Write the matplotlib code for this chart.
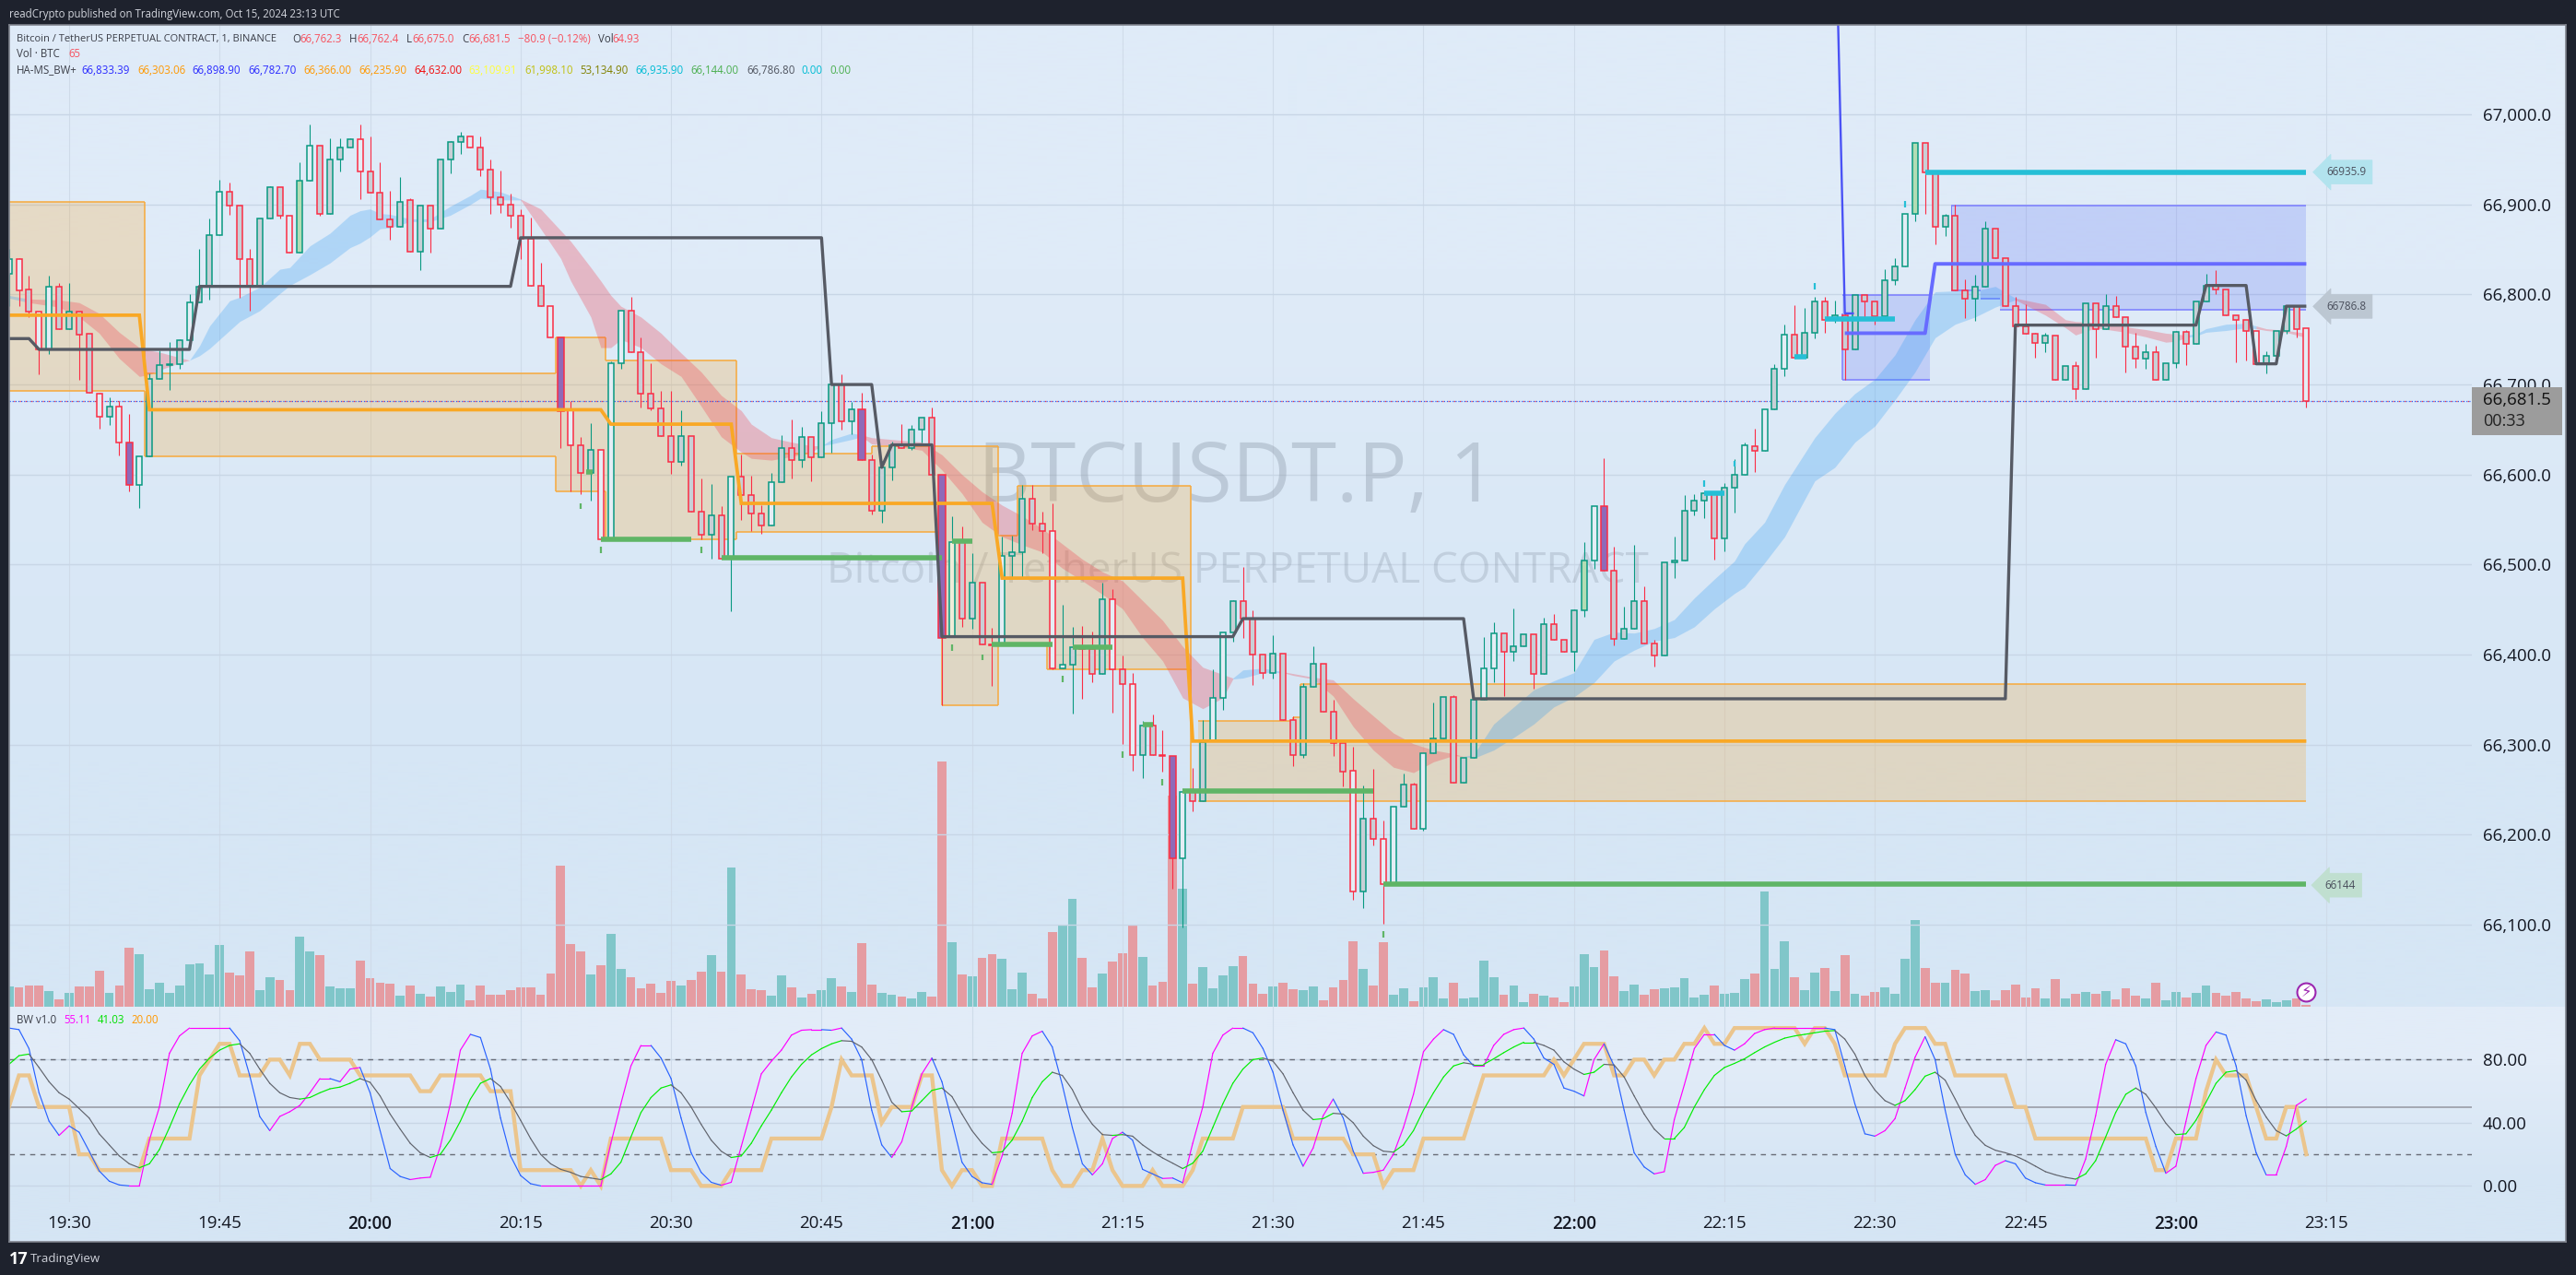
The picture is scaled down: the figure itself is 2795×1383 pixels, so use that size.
import numpy as np
import matplotlib
matplotlib.use("Agg")
import matplotlib.pyplot as plt
from matplotlib.patches import Rectangle
from matplotlib.ticker import FuncFormatter

plt.rcParams['font.family'] = ['Open Sans', 'DejaVu Sans']

W, H = 2795, 1383

# ---------------- data ----------------
opens = [66823,66839,66806,66781,66739,66809,66762,66781,66756,66690,
66664,66676,66636,66588,66620,66706,66722,66723,66749,66791,
66809,66866,66914,66899,66839,66809,66884,66919,66887,66847,
66926,66965,66890,66950,66963,66972,66937,66913,66883,66875,
66905,66848,66899,66873,66950,66969,66976,66963,66939,66908,
66900,66887,66862,66810,66787,66752,66671,66633,66602,66627,
66528,66724,66782,66736,66690,66673,66643,66614,66643,66559,
66533,66555,66507,66598,66577,66557,66543,66592,66629,66616,
66642,66619,66657,66700,66659,66672,66616,66560,66608,66633,
66629,66650,66663,66600,66420,66525,66440,66480,66411,66410,
66510,66514,66573,66545,66537,66385,66389,66408,66406,66379,
66462,66384,66367,66288,66321,66288,66287,66174,66248,66237,
66304,66352,66425,66460,66440,66400,66380,66401,66327,66288,
66364,66390,66337,66302,66271,66137,66218,66195,66144,66231,
66256,66207,66291,66307,66353,66258,66285,66350,66385,66424,
66403,66409,66423,66379,66434,66416,66403,66449,66505,66565,
66493,66418,66429,66460,66412,66399,66502,66505,66560,66571,
66579,66529,66585,66600,66632,66626,66672,66717,66755,66730,
66757,66792,66772,66777,66739,66799,66792,66776,66816,66831,
66889,66968,66936,66875,66887,66805,66795,66809,66873,66840,
66787,66765,66756,66746,66754,66705,66721,66695,66790,66762,
66787,66775,66742,66729,66736,66705,66724,66758,66745,66792,
66810,66806,66777,66772,66759,66723,66732,66759,66787,66762.3]
closes = [66839,66805,66781,66739,66809,66762,66781,66755,66691,66664,
66676,66636,66588,66620,66706,66722,66723,66749,66791,66809,
66866,66914,66899,66839,66809,66884,66919,66887,66847,66926,
66965,66890,66950,66963,66972,66937,66913,66883,66875,66903,
66848,66899,66873,66950,66969,66976,66963,66939,66908,66900,
66887,66862,66810,66787,66752,66670,66633,66602,66627,66528,
66724,66782,66736,66690,66673,66643,66614,66643,66559,66533,
66555,66507,66598,66577,66557,66543,66592,66629,66616,66642,
66619,66657,66700,66659,66672,66616,66560,66608,66633,66629,
66650,66663,66600,66419,66525,66440,66480,66411,66410,66510,
66514,66573,66545,66537,66385,66389,66408,66406,66379,66462,
66384,66367,66288,66321,66288,66287,66174,66248,66237,66303,
66352,66425,66460,66440,66400,66380,66401,66327,66288,66364,
66390,66337,66302,66270,66137,66218,66195,66145,66231,66256,
66207,66291,66307,66353,66258,66285,66350,66385,66424,66403,
66409,66423,66379,66434,66416,66403,66449,66505,66565,66493,
66418,66429,66460,66412,66399,66502,66505,66560,66571,66579,
66529,66585,66600,66633,66626,66672,66717,66755,66730,66757,
66792,66772,66777,66739,66799,66792,66776,66816,66831,66889,
66968,66936,66875,66887,66805,66795,66809,66873,66840,66787,
66765,66756,66746,66754,66705,66721,66695,66790,66762,66787,
66775,66742,66729,66736,66705,66724,66758,66745,66792,66810,
66806,66777,66772,66759,66723,66732,66759,66787,66762,66681.5]
highs = [66851,66840,66821,66781,66821,66813,66813,66781,66756,66691,
66686,66682,66667,66620,66712,66738,66747,66750,66800,66851,
66884,66927,66924,66899,66851,66884,66920,66919,66887,66947,
66989,66965,66973,66973,66973,66989,66976,66947,66915,66930,
66907,66899,66899,66950,66970,66981,66976,66976,66950,66938,
66912,66895,66885,66835,66787,66752,66682,66642,66657,66627,
66726,66782,66797,66752,66724,66693,66693,66671,66643,66596,
66590,66565,66598,66622,66599,66566,66602,66644,66661,66653,
66642,66670,66700,66711,66681,66691,66622,66615,66637,66656,
66655,66663,66674,66600,66554,66542,66513,66480,66430,66531,
66532,66588,66589,66559,66568,66455,66431,66432,66426,66480,
66473,66399,66380,66326,66334,66316,66287,66248,66274,66327,
66384,66425,66461,66497,66449,66400,66422,66401,66332,66368,
66409,66390,66350,66302,66298,66255,66273,66216,66231,66268,
66258,66291,66347,66353,66355,66285,66350,66420,66436,66424,
66451,66423,66423,66441,66445,66416,66450,66525,66565,66618,
66520,66453,66522,66476,66416,66502,66531,66577,66578,66580,
66579,66591,66617,66636,66651,66672,66723,66767,66788,66785,
66797,66797,66793,66779,66799,66799,66792,66828,66840,66889,
66968,66968,66936,66890,66900,66817,66822,66881,66873,66840,
66797,66789,66757,66757,66754,66721,66726,66790,66790,66800,
66798,66775,66757,66745,66743,66724,66759,66760,66792,66823,
66827,66806,66777,66772,66759,66737,66759,66787,66787,66762.4]
lows = [66787,66787,66775,66711,66734,66762,66762,66705,66691,66651,
66655,66621,66581,66563,66620,66706,66694,66717,66745,66791,
66794,66866,66888,66796,66782,66809,66884,66884,66847,66847,
66926,66887,66890,66937,66963,66906,66913,66883,66861,66875,
66848,66827,66847,66873,66935,66956,66963,66931,66890,66891,
66874,66839,66810,66787,66752,66629,66581,66578,66571,66528,
66528,66717,66736,66675,66671,66643,66601,66610,66559,66528,
66507,66507,66448,66550,66537,66534,66543,66592,66596,66608,
66593,66619,66624,66650,66645,66616,66556,66547,66594,66629,
66627,66636,66600,66344,66420,66431,66429,66411,66365,66410,
66486,66486,66538,66513,66384,66385,66335,66351,66369,66379,
66336,66301,66271,66263,66288,66270,66140,66097,66226,66237,
66304,66339,66414,66419,66366,66373,66373,66327,66276,66285,
66364,66337,66287,66254,66128,66119,66188,66101,66144,66231,
66207,66205,66291,66307,66258,66258,66285,66350,66369,66354,
66393,66409,66362,66379,66416,66403,66382,66442,66495,66493,
66410,66418,66429,66412,66387,66399,66485,66505,66555,66552,
66506,66515,66558,66600,66603,66626,66672,66709,66730,66730,
66751,66757,66769,66705,66739,66774,66767,66776,66811,66831,
66881,66889,66856,66865,66805,66774,66771,66809,66840,66787,
66765,66756,66730,66736,66705,66705,66684,66695,66730,66762,
66775,66713,66719,66717,66705,66705,66719,66722,66745,66792,
66800,66777,66725,66727,66723,66712,66732,66756,66752,66675]
volume = [660,630,690,690,510,240,450,660,660,1170,450,690,1920,1710,570,780,450,690,1380,1410,
1050,2010,1110,1020,1800,540,960,870,540,2280,1800,1680,660,600,600,1500,930,780,750,360,
690,420,330,660,480,720,210,690,390,390,540,630,630,390,1080,4590,2040,1800,1050,1350,
2370,1230,960,600,750,450,840,690,870,1140,1680,1140,4530,1050,570,540,360,1020,630,300,
420,540,930,660,480,2070,720,450,390,330,270,480,330,7980,2100,1050,990,1590,1710,1560,
570,1110,420,270,2430,2670,3510,1590,630,1080,1470,1740,2670,1620,690,810,6870,3840,750,1290,
600,1020,1320,1650,750,420,660,780,570,540,660,210,630,870,2130,1230,690,2100,390,600,
180,630,960,270,780,270,300,1500,960,390,690,150,420,360,300,150,660,1710,1290,1830,
990,510,720,390,570,600,630,930,300,390,690,430,460,910,1090,3760,1240,2140,970,550,
1120,1270,520,1690,430,370,490,640,430,1570,2830,1270,790,790,1210,1090,520,550,220,550,
730,310,610,280,910,280,430,490,430,520,250,610,370,280,790,220,490,310,460,700,
460,370,490,280,190,250,160,220,280,65]

stoch_k = [100,99,87,59,41,32,38,34,22,9.5,
3,0.6,0,0,29,50,84,95,100,100,
100,100,100,92,70,44,35,44,47,51,
59,68,68,66,74,75,59,35,11,6,
4,5,5.5,25,52,86,96,94,74,43,
19,6.6,1.4,0,0,0,0,0,0,0,
27,52,76,89,89,81,68,43,21,8.6,
2.3,0.4,2.3,25,48,71,79,86,95.5,98.6,
99,99,98.6,100,93,80,48,26,18,28,
50,71,81,66,41,15,6,2,1,19,
46,84,95,98,88,64,37,14,7,14,
30,34,29,10.5,7.6,4.7,5,2,27,50,
84,95.5,100,100,97,87,72,48,26,12.5,
24,44.5,55,43,22,8,8.6,10,20,37,
58,85,93,99,96,83,76,76,89,96,
99,100,93,81,77,62,60,57,80,90,
76,48,21,12,7.6,9,42,64,87,96,
96,89,86,90,96.5,99,100,100,100,100,
100,100,99,76,52,33,31.5,35,42.6,62,
81.5,94.5,80,48,20,7,1,4,13,16,
14,5,2,0.6,0.6,0.6,0.4,17,44.5,77,
92.6,90,76,46.5,25,8,12.5,40.7,68,89,
97.5,95.5,76,44.5,21,7,7,25,51,55.11]
stoch_d = [77,82.5,83.5,75,66,59,55,49,43,33,
26,19,14,11.5,14,23,37,52,64,74,
81,86,89,90,84,74,65,59,56,55,
56,59,61.5,62.6,65,68,65.6,57,45.5,36,
27,21,18,20,29,41,55,65,68,63,
53,41.6,30,20,14,10.5,8.6,6,5,4,
7.6,15,31,46.5,56,62,64,59,50,39,
29,22,18,19,27,38,48,59,69,77,
83,87,90,92,91.6,88,80,67,53,47,
47.5,54,60.5,62,56.6,45.5,35,27,21,21.6,
29,41,56,66,72,70,61,48,39,32.5,
32,32.5,31.5,26,21.6,17.7,14.4,11,14.4,22,
37,52,65,74,80,81,79,71,59,48,
42,42.6,46,45.5,40,31.5,25.5,22,21.4,26,
35,48,59,69,76,78,77,77,80.5,84.4,
88,91,91,89,86,78.6,74,70.6,72,77,
76.6,69,57,45.5,36,30,30,37,50,61,
70,75,77.6,80.5,84.4,88,91,93.6,95,96,
97,98,98.4,93,83.5,70,60.7,54,51,54,
61,69.5,72,67,55,42.6,32,25.7,22.6,21,
19,16,12.5,9,7,5.4,4.3,7.6,16,31,
46.5,58,62,58,49.4,39.7,32.5,33,41.6,53,
65,72,73,67,54,43.6,35,31.7,36,41.03]
rsi_bars = [0,1,2,3,6,7,8,9,13,14,18,19,20,21,22,23,25,26,27,28,29,30,31,34,35,40,41,42,43,47,48,50,51,56,57,58,59,60,65,66,68,69,71,72,75,76,81,82,83,84,
86,87,88,90,91,92,93,94,95,96,97,98,99,103,104,105,106,107,108,109,110,111,113,114,115,117,118,119,122,123,127,128,133,134,136,137,138,140,141,145,146,147,153,154,155,156,157,159,160,161,162,163,164,165,166,167,168,169,170,171,172,178,179,180,181,182,183,187,188,189,191,192,193,194,199,200,201,202,213,214,215,216,218,219,220,221,223,224,225,226,227,228,229]
rsi_vals = [50,70,70,50,50,20,20,10,10,30,30,70,80,90,90,70,70,80,80,70,90,90,80,80,70,70,60,60,70,70,60,60,10,10,0,10,0,30,30,10,10,0,0,10,10,30,30,50,80,70,
70,40,50,50,70,70,10,0,10,10,0,0,30,30,10,0,0,10,10,30,10,0,0,10,0,0,10,30,30,50,50,30,30,20,20,0,10,10,30,30,50,70,70,80,70,80,90,90,70,70,80,80,70,80,80,90,90,100,90,90,100,100,90,100,100,90,70,70,90,100,100,90,90,70,70,50,50,30,30,10,10,30,30,60,80,70,70,50,30,30,50,50,20]

ribbon_bars = [0,2,5,7,9,11,13,14,15,17,18,19,20,22,23,25,27,28,30,32,34,35,36,37,38,40,42,44,46,47,49,51,53,55,56,58,59,60,61,63,65,67,69,71,73,74,76,78,80,81,82,84,85,86,88,91,93,95,97,99,101,103,105,107,109,111,113,115,117,119,121,122,123,125,127,128,130,132,134,136,138,140,142,144,145,146,148,150,152,154,156,158,160,162,164,166,168,170,172,173,175,177,180,182,184,186,188,190,192,194,196,198,200,203,205,206,208,211,213,215,216,217,218,219,221,223,224,225,227,229]
ribbon_top = [66799,66795,66794,66791,66779,66758,66741,66738,66736,66730,66727,66743,66765,66793,66797,66808,66828,66830,66854,66868,66888,66893,66895,66890,66889,66884,66884,66898,66910,66917,66914,66906,66895,66871,66859,66830,66815,66799,66787,66775,66757,66735,66714,66688,66671,66656,66641,66636,66632,66632,66639,66646,66644,66641,66639,66636,66622,66600,66581,66566,66554,66540,66523,66506,66492,66482,66460,66438,66409,66386,66378,66374,66383,66385,66381,66379,66375,66372,66351,66332,66313,66301,66294,66290,66287,66289,66323,66342,66361,66371,66380,66417,66425,66424,66429,66439,66463,66484,66504,66523,66547,66589,66641,66668,66690,66706,66733,66772,66803,66804,66804,66809,66796,66789,66772,66770,66769,66764,66761,66757,66756,66755,66756,66762,66767,66768,66765,66762,66760,66757]
ribbon_bot = [66796,66791,66786,66775,66757,66729,66709,66711,66716,66724,66727,66732,66740,66760,66770,66782,66801,66810,66822,66835,66852,66857,66864,66873,66874,66881,66881,66888,66900,66907,66905,66905,66873,66840,66815,66775,66741,66741,66750,66741,66723,66709,66676,66642,66625,66618,66616,66620,66625,66632,66634,66639,66642,66634,66632,66627,66605,66579,66547,66531,66522,66514,66496,66482,66467,66451,66419,66393,66352,66340,66352,66373,66374,66380,66380,66377,66373,66354,66320,66294,66275,66269,66281,66288,66287,66285,66294,66308,66323,66342,66353,66369,66393,66405,66415,66419,66431,66451,66468,66475,66502,66531,66593,66608,66636,66654,66683,66714,66752,66767,66775,66786,66794,66777,66763,66755,66763,66758,66753,66747,66748,66752,66754,66758,66760,66763,66762,66760,66758,66752]
ribbon_turns = [0,2,18,51,81,85,122,127,145,200,217,224]

zone_left  = [0,13.5,54.5,59.5,72.5,86,93,98.6,100.5,103.5,118.5,128,128.7]
zone_right = [13.5,54.5,59.5,72.5,86,93,98.6,100.5,103.5,117.8,128,128.7,229]
zone_top   = [66903,66712,66752,66727,66623,66632,66632,66532,66587,66587,66326,66331,66367]
zone_bot   = [66693,66620,66581,66528,66536,66536,66344,66411,66411,66384,66237,66237,66237]
bluez_left  = [182.8,193.6,196.5,198.5]
bluez_right = [191.5,196.5,198.5,229]
bluez_top   = [66799,66899,66899,66899]
bluez_bot   = [66705,66805,66795,66783]

gray_bars = [0,2,3,18,19,50,51,81,82,86,87,88,92,93,122,123,145,146,199,200,218,219,223,224,226,227,229]
gray_vals = [66751,66751,66739,66739,66809,66809,66863,66863,66700,66700,66608,66633,66633,66420,66420,66440,66440,66351,66351,66766,66766,66810,66810,66723,66723,66787,66787]
orange_bars = [0,13,14,59,60,72,73,98,99,117,118,229]
orange_vals = [66777,66777,66672,66672,66656,66656,66568,66568,66485,66485,66304,66304]
blue_bars = [183,191,192,229]
blue_vals = [66757,66757,66834,66834]
spike_bars = [182,183,183.8]
spike_vals = [67260,66779,66779]

green_start = [57.5,59,71,94,98,106,113,117,137]
green_end   = [58.2,68,93,96,104,110,114,136,229]
green_vals  = [66603,66528,66508,66526,66411,66408,66322,66249,66145]
green_tick_bars = [57,59,69,94,97,105,111,115,137]
green_tick_vals = [66565,66516,66516,66408,66397,66373,66289,66258,66089]
cyan_start = [169,178,181,191]
cyan_end   = [171,179.2,188,229]
cyan_vals  = [66579,66731,66773,66936]
cyan_tick_bars = [169,172,180,189]
cyan_tick_vals = [66590,66612,66809,66900]

purple_bars = [12,55,85,93,116,159]
greenfill_bars = [29,157,190]
pale_bars = [94]
light_bars = [0,1,3,4,9,11,13,18,21,28,30,35,46,52,54,56,59,60,61,72,76,99,104,105,110,112,117,120,121,134,137,138,141,147,148,158,173,175,177,189,224,229]

price_ticks = [66100,66200,66300,66400,66500,66600,66700,66800,66900,67000]
time_bars = [6,21,36,51,66,81,96,111,126,141,156,171,186,201,216,231]
time_labels = ['19:30','19:45','20:00','20:15','20:30','20:45','21:00','21:15','21:30','21:45','22:00','22:15','22:30','22:45','23:00','23:15']
hour_labels = ['20:00','21:00','22:00','23:00']
last_price = 66681.5

# ---------------- layout ----------------
DARK = '#1e222d'
UP = '#089981'
DOWN = '#fb2c44'
GRID_H = '#c8d6e6'
GRID_V = '#cfdbe9'
fig = plt.figure(figsize=(W/100, H/100), dpi=100, facecolor=DARK)

def frac(x0, y0, x1, y1):
    return [x0/W, 1-y1/H, (x1-x0)/W, (y1-y0)/H]

def gradient(rect, c_top, c_bot):
    a = fig.add_axes(rect, zorder=0)
    img = np.array([[c_top],[c_bot]])/255.0
    a.imshow(img, aspect='auto', interpolation='bilinear', extent=(0,1,0,1))
    a.set_axis_off()
    return a

gradient(frac(10,27,2784,1092), (223,235,248), (214,230,245))
gradient(frac(10,1092,2784,1347), (226,236,248), (213,229,244))

frame = fig.add_axes(frac(10,27,2784,1347), zorder=9)
frame.patch.set_alpha(0)
frame.set_xticks([]); frame.set_yticks([])
for s in frame.spines.values():
    s.set_color('#7f838d'); s.set_linewidth(1.2)

XLIM = (0.03, 245.5)
vol_ax = fig.add_axes(frac(10,27,2682,1092), zorder=1)
ax = fig.add_axes(frac(10,27,2682,1092), zorder=2)
ind = fig.add_axes(frac(10,1092,2682,1304), zorder=2)
for a in (vol_ax, ax, ind):
    a.patch.set_alpha(0)
    a.set_xlim(*XLIM)
    for s in a.spines.values():
        s.set_visible(False)

bars = np.arange(len(opens))
o, h, l, c = map(np.array, (opens, highs, lows, closes))
is_up = c >= o

# volume
vol_ax.set_ylim(0, 1065*30)
vol_ax.set_xticks([]); vol_ax.set_yticks([])
vol_ax.bar(bars, volume, width=0.9, color=['#80c6c9' if u else '#e59ca2' for u in is_up], linewidth=0)

# price axis
ax.set_ylim(66009, 67099.4)
ax.yaxis.tick_right()
ax.set_yticks(price_ticks)
ax.yaxis.set_major_formatter(FuncFormatter(lambda v, p: f'{v:,.1f}'))
ax.tick_params(axis='y', length=0, pad=8.6, labelsize=13.5, labelcolor='#131722')
ax.set_xticks(time_bars)
ax.tick_params(axis='x', length=0, labelbottom=False)
ax.grid(True, axis='y', color=GRID_H, lw=1.0, zorder=0.5)
ax.grid(True, axis='x', color=GRID_V, lw=0.8, zorder=0.5)
ax.set_axisbelow(True)

# watermark
ax.text((1342-10)/(2682-10), 1-(521-27)/1065, 'BTCUSDT.P, 1', transform=ax.transAxes, fontsize=64,
        color='#8c98a8', alpha=0.38, ha='center', va='center', zorder=1)
ax.text((1343-10)/(2682-10), 1-(620-27)/1065, 'Bitcoin / TetherUS PERPETUAL CONTRACT', transform=ax.transAxes, fontsize=33,
        color='#8c98a8', alpha=0.30, ha='center', va='center', zorder=1)

# zones
for lft, rgt, tp, bt in zip(zone_left, zone_right, zone_top, zone_bot):
    ax.fill_between([lft, rgt], [bt, bt], [tp, tp], color='#ff9800', alpha=0.2, lw=0, zorder=1.5)
    ax.hlines([tp, bt], lft, rgt, color='#f7a93b', lw=1.1, zorder=1.6)
for k in range(len(zone_left)-1):
    ax.vlines(zone_right[k], min(zone_top[k], zone_top[k+1]), max(zone_top[k], zone_top[k+1]), color='#f7a93b', lw=1.1, zorder=1.6)
    ax.vlines(zone_right[k], min(zone_bot[k], zone_bot[k+1]), max(zone_bot[k], zone_bot[k+1]), color='#f7a93b', lw=1.1, zorder=1.6)
for lft, rgt, tp, bt in zip(bluez_left, bluez_right, bluez_top, bluez_bot):
    ax.fill_between([lft, rgt], [bt, bt], [tp, tp], color='#3d50f5', alpha=0.18, lw=0, zorder=1.5)
    ax.hlines([tp, bt], lft, rgt, color='#7a7dff', lw=1.1, zorder=1.6)
ax.vlines(bluez_left[0], 66705, 66779, color='#7a7dff', lw=1.1, zorder=1.6)
ax.vlines(bluez_left[1], 66805, 66899, color='#7a7dff', lw=0.7, zorder=1.6)

# EMA ribbon
rb = np.array(ribbon_bars); rt = np.array(ribbon_top); rl = np.array(ribbon_bot)
turns = ribbon_turns + [ribbon_bars[-1]]
for k in range(len(ribbon_turns)):
    m = (rb >= turns[k]) & (rb <= turns[k+1])
    col, al = ('#2196f3', 0.25) if k % 2 == 0 else ('#f23645', 0.28)
    ax.fill_between(rb[m], rl[m], rt[m], color=col, alpha=al, lw=0, zorder=2)

# last price line
ax.axhline(last_price, color='#2962ff', lw=0.9, ls=(0, (1, 1.5)), zorder=2.5)
ax.axhline(last_price, color='#f23645', lw=0.9, ls=(1.2, (1, 4)), zorder=2.6)

# candles
edge = np.where(is_up, UP, DOWN)
ax.vlines(bars, l, h, colors=edge, lw=0.8, zorder=3)
faces = []
for i in bars:
    if i in purple_bars: faces.append('#8f6ab8')
    elif i in greenfill_bars: faces.append('#b4dcb4')
    elif i in pale_bars: faces.append('#f0ecd8')
    elif i in light_bars: faces.append('#e4edf5')
    else: faces.append('#c8cfd6')
body_lo = np.minimum(o, c); body_h = np.abs(c-o)
widths = [0.66 if i in purple_bars else 0.55 for i in bars]
ax.bar(bars, body_h, bottom=body_lo, width=widths, facecolor=faces, edgecolor=edge, linewidth=1.1, zorder=3.5)

# overlay lines
ax.plot(orange_bars, orange_vals, color='#f9a825', lw=2.7, zorder=4, solid_joinstyle='miter', solid_capstyle='butt')
ax.plot(blue_bars, blue_vals, color='#676bff', lw=2.8, zorder=4, solid_capstyle='butt')
ax.plot(spike_bars, spike_vals, color='#4a52f5', lw=1.7, zorder=4)
ax.plot(gray_bars, gray_vals, color='#565a64', lw=2.4, zorder=4.2, solid_capstyle='butt')
ax.hlines(green_vals, green_start, green_end, color='#5fb566', lw=4.0, zorder=4.1)
ax.hlines(cyan_vals, cyan_start, cyan_end, color='#25bfd6', lw=4.0, zorder=4.1)
ax.vlines(green_tick_bars, np.array(green_tick_vals)-3.5, np.array(green_tick_vals)+3.5, color='#5fb566', lw=1.6, zorder=4)
ax.vlines(cyan_tick_bars, np.array(cyan_tick_vals)-3.5, np.array(cyan_tick_vals)+3.5, color='#25bfd6', lw=1.6, zorder=4)

# tags on the right of the last bar
def tag(val, txt, fill, xbar=233.0):
    ax.annotate(txt, (xbar, val), fontsize=8.4, color='#4a4f5c', ha='center', va='center', zorder=5,
                bbox=dict(boxstyle='larrow,pad=0.55', fc=fill, ec=fill, lw=0.5))
tag(66935.9, '66935.9', '#b2e3ee')
tag(66786.8, '66786.8', '#bcc7d2')
tag(66144, '66144', '#c0dfd0', xbar=232.4)

# lightning marker
vol_ax.scatter([bars[-1]], [480], s=205, facecolor='white', edgecolor='#9c27b0', linewidth=1.5, zorder=6, clip_on=False)
vol_ax.text(bars[-1], 470, '\u26a1', fontsize=12, color='#9c27b0', ha='center', va='center', family='DejaVu Sans', zorder=7)

# BW pane
ind.set_ylim(-10.3, 113.5)
ind.yaxis.tick_right()
ind.set_yticks([0, 40, 80])
ind.set_yticklabels(['0.00', '40.00', '80.00'])
ind.tick_params(axis='y', length=0, pad=8.6, labelsize=13.5, labelcolor='#131722')
ind.set_xticks(time_bars)
ind.set_xticklabels(time_labels)
ind.tick_params(axis='x', length=0, pad=10, labelsize=13.5, labelcolor='#131722')
for t in ind.get_xticklabels():
    if t.get_text() in hour_labels:
        t.set_fontweight('semibold')
ind.grid(True, axis='y', color=GRID_H, lw=1.0, zorder=0.5)
ind.grid(True, axis='x', color=GRID_V, lw=0.8, zorder=0.5)
ind.set_axisbelow(True)
ind.axhline(50, color='#9fa3ad', lw=1.3, zorder=1)
for lvl in (80, 20):
    ind.axhline(lvl, color='#686c76', lw=1.0, ls=(0, (4, 4)), zorder=1)
ind.plot(rsi_bars, rsi_vals, color='#ebc58d', lw=3.1, zorder=2, solid_joinstyle='miter')
for k in range(len(bars)-1):
    kc = '#ff00ff' if stoch_k[k+1] >= stoch_k[k] else '#2962ff'
    dc = '#00ee00' if stoch_d[k+1] >= stoch_d[k] else '#60636c'
    ind.plot(bars[k:k+2], stoch_k[k:k+2], color=kc, lw=0.85, zorder=3, solid_capstyle='round')
    ind.plot(bars[k:k+2], stoch_d[k:k+2], color=dc, lw=0.85, zorder=3, solid_capstyle='round')

# ---------------- texts at fixed places ----------------
def ftext(x, y, s, color='#131722', size=8.3, **kw):
    return fig.text(x/W, 1-y/H, s, color=color, fontsize=size, va='center', ha=kw.pop('ha', 'left'), zorder=20, **kw)

ftext(10, 15, 'readCrypto published on TradingView.com, Oct 15, 2024 23:13 UTC', color='#d1d4dc', size=8.3)
R = '#f7525f'
ftext(18, 42, 'Bitcoin / TetherUS PERPETUAL CONTRACT, 1, BINANCE', color='#3b3e48', size=8.0)
for x, s, col in [(317,'O','#3b3e48'),(325,'66,762.3',R),(379,'H','#3b3e48'),(387,'66,762.4',R),(441,'L','#3b3e48'),(447,'66,675.0',R),
                  (501,'C','#3b3e48'),(508,'66,681.5',R),(562,'\u221280.9 (\u22120.12%)',R),(649,'Vol','#3b3e48'),(664,'64.93',R)]:
    ftext(x, 42, s, color=col)
ftext(18, 59, 'Vol \u00b7 BTC', color='#3b3e48')
ftext(74, 59, '65', color=R)
ftext(18, 76, 'HA-MS_BW+', color='#3b3e48')
for x, s, col in [(88,'66,833.39','#2a2aff'),(149,'66,303.06','#ff9800'),(208,'66,898.90','#2a2aff'),(269,'66,782.70','#2a2aff'),
                  (329,'66,366.00','#ff9800'),(389,'66,235.90','#ff9800'),(449,'64,632.00','#f01010'),(508,'63,109.91','#ffff3b'),
                  (569,'61,998.10','#c0c010'),(629,'53,134.90','#808000'),(689,'66,935.90','#00bcd4'),(749,'66,144.00','#4caf50'),
                  (810,'66,786.80','#505560'),(869,'0.00','#00bcd4'),(900,'0.00','#4caf50')]:
    ftext(x, 76, s, color=col)
ftext(18, 1107, 'BW v1.0', color='#3b3e48')
ftext(69, 1107, '55.11', color='#ff00ff')
ftext(106, 1107, '41.03', color='#00e000')
ftext(142, 1107, '20.00', color='#ff9800')

# last price box
fig.add_artist(Rectangle((2682/W, 1-472/H), 98/W, 52/H, transform=fig.transFigure, facecolor='#9c9c9c', edgecolor='none', zorder=15))
ftext(2694, 434, '66,681.5', size=13.5, color='#111111')
ftext(2694, 457, '00:33', size=13, color='#222222')

# brand
ftext(10, 1366, '17', color='#ffffff', size=13, fontweight='bold')
ftext(33, 1366, 'TradingView', color='#d1d4dc', size=9.5)

fig.savefig('out.png', dpi=100, facecolor=DARK)
